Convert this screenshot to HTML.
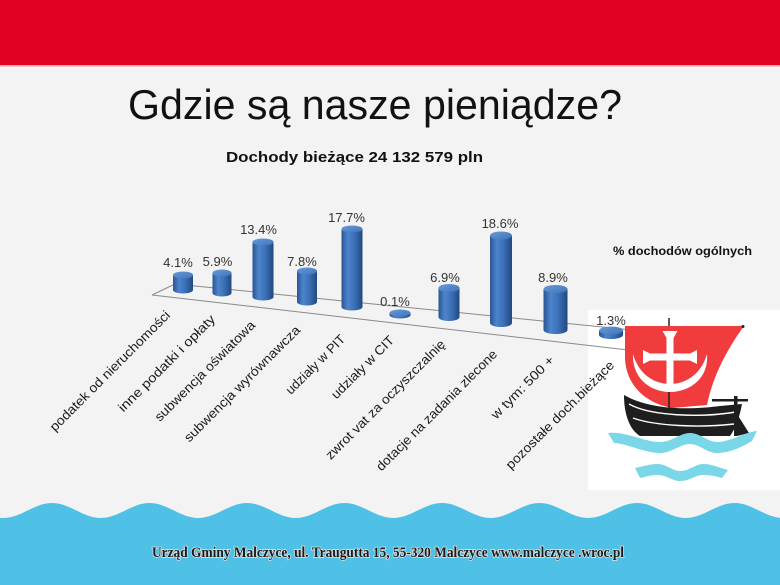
<!DOCTYPE html>
<html><head><meta charset="utf-8"><style>
html,body{margin:0;padding:0;background:#f3f3f3;}
svg{display:block;}
</style></head><body>
<svg width="780" height="585" viewBox="0 0 780 585" xmlns="http://www.w3.org/2000/svg">
<defs>
<linearGradient id="cyl" x1="0" x2="1" y1="0" y2="0">
<stop offset="0" stop-color="#2a5594"/>
<stop offset="0.3" stop-color="#4d84cb"/>
<stop offset="0.6" stop-color="#3b71b9"/>
<stop offset="1" stop-color="#22497f"/>
</linearGradient>
<linearGradient id="topg" x1="0" x2="1" y1="0" y2="1">
<stop offset="0" stop-color="#6a9bd8"/>
<stop offset="1" stop-color="#3f74bb"/>
</linearGradient>
</defs>
<rect x="0" y="0" width="780" height="585" fill="#f3f3f3"/>
<rect x="0" y="0" width="780" height="66" fill="#df0024"/>
<rect x="0" y="65" width="780" height="1.5" fill="#f0a0a8"/>

<text x="128" y="119" font-family="Liberation Sans, sans-serif" font-size="42" fill="#111" textLength="494" lengthAdjust="spacingAndGlyphs">Gdzie są nasze pieniądze?</text>
<text x="226" y="162" font-family="Liberation Sans, sans-serif" font-size="15" font-weight="bold" fill="#111" textLength="257" lengthAdjust="spacingAndGlyphs">Dochody bieżące 24 132 579 pln</text>
<text x="613" y="255" font-family="Liberation Sans, sans-serif" font-size="12" font-weight="bold" fill="#111" textLength="139" lengthAdjust="spacingAndGlyphs">% dochodów ogólnych</text>

<!-- logo white box -->
<rect x="588" y="310" width="192" height="180" fill="#ffffff"/>

<!-- floor -->
<g stroke="#8a8a8a" stroke-width="1" fill="none">
<line x1="152" y1="295" x2="628" y2="350"/>
<line x1="175" y1="284" x2="642" y2="331"/>
<line x1="152" y1="295" x2="175" y2="284"/>
<line x1="628" y1="350" x2="642" y2="331"/>
</g>

<!-- bars -->
<g>
<path d="M173,275 L173,290 A10,3.5 0 0 0 193,290 L193,275 Z" fill="url(#cyl)"/><ellipse cx="183" cy="275" rx="10" ry="3.5" fill="url(#topg)"/>
<path d="M212.5,273 L212.5,293 A9.5,3.5 0 0 0 231.5,293 L231.5,273 Z" fill="url(#cyl)"/><ellipse cx="222" cy="273" rx="9.5" ry="3.5" fill="url(#topg)"/>
<path d="M252.5,242 L252.5,297 A10.5,3.5 0 0 0 273.5,297 L273.5,242 Z" fill="url(#cyl)"/><ellipse cx="263" cy="242" rx="10.5" ry="3.5" fill="url(#topg)"/>
<path d="M297,271 L297,302 A10,3.5 0 0 0 317,302 L317,271 Z" fill="url(#cyl)"/><ellipse cx="307" cy="271" rx="10" ry="3.5" fill="url(#topg)"/>
<path d="M341.5,229 L341.5,307 A10.5,3.5 0 0 0 362.5,307 L362.5,229 Z" fill="url(#cyl)"/><ellipse cx="352" cy="229" rx="10.5" ry="3.5" fill="url(#topg)"/>
<path d="M389.5,313 L389.5,315 A10.5,3.5 0 0 0 410.5,315 L410.5,313 Z" fill="url(#cyl)"/><ellipse cx="400" cy="313" rx="10.5" ry="3.5" fill="url(#topg)"/>
<path d="M438.5,288 L438.5,317 A10.5,4 0 0 0 459.5,317 L459.5,288 Z" fill="url(#cyl)"/><ellipse cx="449" cy="288" rx="10.5" ry="4" fill="url(#topg)"/>
<path d="M490,235.5 L490,323 A11,4 0 0 0 512,323 L512,235.5 Z" fill="url(#cyl)"/><ellipse cx="501" cy="235.5" rx="11" ry="4" fill="url(#topg)"/>
<path d="M543.5,289 L543.5,330 A12,4 0 0 0 567.5,330 L567.5,289 Z" fill="url(#cyl)"/><ellipse cx="555.5" cy="289" rx="12" ry="4" fill="url(#topg)"/>
<path d="M599,330.5 L599,335 A12,4 0 0 0 623,335 L623,330.5 Z" fill="url(#cyl)"/><ellipse cx="611" cy="330.5" rx="12" ry="4" fill="url(#topg)"/>
</g>

<!-- value labels -->
<g font-family="Liberation Sans, sans-serif" font-size="13" fill="#333" text-anchor="middle">
<text x="178" y="267">4.1%</text>
<text x="217.5" y="266">5.9%</text>
<text x="258.5" y="234">13.4%</text>
<text x="302" y="266">7.8%</text>
<text x="346.5" y="222">17.7%</text>
<text x="395" y="306">0.1%</text>
<text x="445" y="282">6.9%</text>
<text x="500" y="228">18.6%</text>
<text x="553" y="282">8.9%</text>
<text x="611" y="325">1.3%</text>
</g>

<!-- logo -->
<g>
<line x1="669" y1="318" x2="669" y2="328" stroke="#222" stroke-width="1.5"/>
<path d="M625,326 L744,326 C728,348 713,375 707,405 L672,408 C645,403 626,385 625,358 Z" fill="#f03c3c"/>
<circle cx="743" cy="326.5" r="1.5" fill="#222"/>
<polygon points="662.5,331 677.5,331 673.5,338 673.5,353.5 690,353.5 697,350 697,364 690,360.5 673.5,360.5 673.5,388 666.5,388 666.5,360.5 650,360.5 643,364 643,350 650,353.5 666.5,353.5 666.5,338" fill="#fff"/>
<path d="M633,354 C632,378 650,392 670,392 C690,392 709,378 707,354 C702,372 688,384 670,384 C652,384 638,372 633,354 Z" fill="#fff"/>
<line x1="669" y1="392" x2="669" y2="410" stroke="#222" stroke-width="1.5"/>
<path d="M624,395 C624,415 630,430 640,436 L730,436 C736,428 740,415 742,404 L720,406 C690,410 650,410 624,395 Z" fill="#1e1e1e"/>
<path d="M629,404 C650,416 700,418 736,412" stroke="#fff" stroke-width="1.4" fill="none"/>
<path d="M633,418 C655,426 700,428 734,424" stroke="#fff" stroke-width="1.4" fill="none"/>
<rect x="734" y="396" width="3.5" height="40" fill="#1e1e1e"/>
<rect x="712" y="399" width="36" height="2.5" fill="#1e1e1e"/>
<polygon points="737,414 749,433 737,436" fill="#1e1e1e"/>
<path d="M608,433 C625,431 645,442 660,442 C672,442 680,433 690,433 C700,433 708,442 717,442 C730,442 745,432 757,431 L752,441 C742,447 730,453 717,453 C706,453 700,444 690,444 C680,444 672,453 660,453 C645,453 625,443 614,443 Z" fill="#7ad7e8"/>
<path d="M635,468 C645,466 650,464 657,464 C667,464 672,471 680,471 C690,471 695,464 703,464 C712,464 720,468 728,470 L722,478 C715,476 710,475 703,475 C695,475 690,481 680,481 C672,481 667,475 657,475 C650,475 645,477 640,478 Z" fill="#7ad7e8"/>
</g>

<!-- category labels -->
<g font-family="Liberation Sans, sans-serif" font-size="13" fill="#1a1a1a" text-anchor="end">
<text transform="translate(171,316) rotate(-45)" textLength="164" lengthAdjust="spacingAndGlyphs">podatek od nieruchomości</text>
<text transform="translate(216,320) rotate(-45)" textLength="131" lengthAdjust="spacingAndGlyphs">inne podatki i opłaty</text>
<text transform="translate(256,326) rotate(-45)" textLength="136" lengthAdjust="spacingAndGlyphs">subwencja oświatowa</text>
<text transform="translate(301,331) rotate(-45)" textLength="158" lengthAdjust="spacingAndGlyphs">subwencja wyrównawcza</text>
<text transform="translate(346,340) rotate(-45)" textLength="78" lengthAdjust="spacingAndGlyphs">udziały w PIT</text>
<text transform="translate(395,341) rotate(-45)" textLength="83" lengthAdjust="spacingAndGlyphs">udziały w CIT</text>
<text transform="translate(446,345) rotate(-45)" textLength="163" lengthAdjust="spacingAndGlyphs">zwrot vat za oczyszczalnię</text>
<text transform="translate(498,355) rotate(-45)" textLength="165" lengthAdjust="spacingAndGlyphs">dotacje na zadania zlecone</text>
<text transform="translate(555,361) rotate(-45)" textLength="83" lengthAdjust="spacingAndGlyphs">w tym: 500 +</text>
<text transform="translate(615,366) rotate(-45)" textLength="147" lengthAdjust="spacingAndGlyphs">pozostałe doch.bieżące</text>
</g>

<!-- bottom waves -->
<path d="M-45.5,503 C-27.75,503 -14.5,518 3.25,518 S34.25,503 52,503 S83,518 100.75,518 S131.75,503 149.5,503 S180.5,518 198.25,518 S229.25,503 247,503 S278,518 295.75,518 S326.75,503 344.5,503 S375.5,518 393.25,518 S424.25,503 442,503 S473,518 490.75,518 S521.75,503 539.5,503 S570.5,518 588.25,518 S619.25,503 637,503 S668,518 685.75,518 S716.75,503 734.5,503 S765.5,518 783.25,518 L783.25,585 L-45.5,585 Z" fill="#4fc1e7"/>

<text x="152" y="557" font-family="Liberation Serif, serif" font-size="14.5" font-weight="bold" fill="#1a1a1a" stroke="#e6e6e6" stroke-width="1.4" paint-order="stroke" textLength="472" lengthAdjust="spacingAndGlyphs">Urząd Gminy Malczyce, ul.  Traugutta 15,  55-320 Malczyce  www.malczyce .wroc.pl</text>
</svg>
</body></html>
